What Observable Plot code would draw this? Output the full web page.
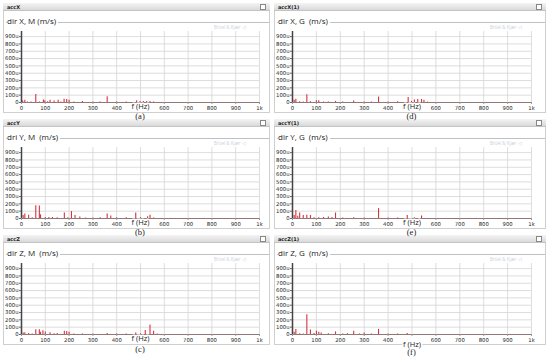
<!DOCTYPE html>
<html><head><meta charset="utf-8">
<script src="https://cdn.jsdelivr.net/npm/d3@7"></script>
<script src="https://cdn.jsdelivr.net/npm/@observablehq/plot@0.6"></script>
<style>
body{margin:0;background:#fff;}
#root{position:relative;width:550px;height:361px;overflow:hidden;background:#fff;font-family:"Open Sans",sans-serif;}
.frame{position:absolute;border:1px solid #cfcfcf;box-sizing:border-box;}
.head{position:absolute;height:8px;background:linear-gradient(#f4f4f4,#d9d9d9);border-bottom:1px solid #c4c4c4;box-sizing:border-box;font:bold 5px "DejaVu Sans";line-height:8px;color:#222;padding-left:4px;}
.sq{position:absolute;width:4px;height:4px;border:1px solid #888;background:#fff;top:1px;}
.tline{position:absolute;border-top:1px solid #c0c0c0;height:0;}
.title{position:absolute;font-size:8px;color:#222;background:#fff;white-space:pre;padding-right:2px;line-height:10px;}
.bk{position:absolute;font-size:4.5px;color:#c9d1de;white-space:pre;}
.cap{position:absolute;z-index:5;font:8.5px "Liberation Serif",serif;color:#222;padding:0 3px;transform:translateX(-50%);line-height:10px;}
.plot{position:absolute;}
</style></head>
<body><div id="root"></div>
<script>
// ---- data (Hz, amplitude in u m/s) ----
const freqA = [0, 5, 14, 25, 40, 60, 75, 92, 98, 110, 120, 137, 154, 165, 179, 190, 200, 220, 256, 300, 330, 360, 400, 440, 484, 498, 512, 526, 540, 555];
const ampA  = [310, 20, 30, 8, 6, 110, 8, 35, 25, 10, 30, 20, 30, 8, 45, 40, 30, 8, 15, 6, 6, 80, 6, 8, 25, 15, 15, 15, 12, 6];
const freqD = [0, 7, 14, 30, 45, 60, 75, 100, 110, 130, 150, 180, 210, 256, 300, 330, 360, 400, 440, 484, 498, 510, 524, 540, 550, 565];
const ampD  = [150, 30, 45, 10, 8, 105, 10, 25, 25, 8, 8, 15, 8, 20, 8, 6, 75, 8, 10, 70, 15, 35, 40, 40, 30, 6];
const freqB = [0, 7, 14, 30, 45, 60, 75, 80, 100, 115, 130, 150, 180, 195, 210, 225, 245, 270, 300, 330, 360, 375, 400, 440, 480, 500, 530, 540, 555];
const ampB  = [300, 40, 60, 45, 10, 175, 170, 50, 15, 15, 12, 10, 75, 10, 95, 40, 20, 8, 8, 10, 60, 35, 10, 10, 75, 12, 25, 45, 6];
const freqE = [0, 7, 14, 22, 30, 45, 60, 75, 90, 110, 130, 150, 165, 180, 210, 256, 300, 360, 400, 440, 480, 510, 540];
const ampE  = [310, 40, 110, 30, 75, 40, 45, 40, 10, 10, 12, 20, 12, 75, 8, 10, 6, 135, 6, 8, 40, 10, 35];
const freqC = [0, 7, 14, 30, 45, 60, 75, 80, 90, 100, 120, 137, 150, 180, 190, 200, 220, 256, 300, 360, 400, 440, 480, 500, 520, 540, 555, 570];
const ampC  = [160, 20, 25, 15, 8, 65, 65, 30, 50, 35, 25, 10, 12, 45, 40, 30, 8, 8, 6, 15, 6, 8, 20, 10, 55, 130, 45, 8];
const freqF = [0, 7, 14, 30, 45, 60, 75, 90, 100, 110, 120, 150, 180, 210, 230, 256, 280, 300, 330, 360, 400, 440, 480];
const ampF  = [210, 30, 70, 10, 8, 270, 60, 15, 45, 30, 20, 10, 35, 8, 10, 45, 8, 20, 8, 70, 6, 6, 15];

const xTicks = [0, 100, 200, 300, 400, 500, 600, 700, 800, 900, 1000];
const yTicks = [0, 100, 200, 300, 400, 500, 600, 700, 800, 900];
const xLabel = "f (Hz)";
const brand = "Brüel & Kjær ◁";

const panels = [
  {col:0,row:0,head:"accX",   title:"dir X, M (m/s)",   cap:"(a)", f:freqA, a:ampA, ldy:0},
  {col:1,row:0,head:"accX(1)",title:"dir X, G  (m/s)",  cap:"(d)", f:freqD, a:ampD, ldy:0},
  {col:0,row:1,head:"accY",   title:"dri Y, M  (m/s)",  cap:"(b)", f:freqB, a:ampB, ldy:0},
  {col:1,row:1,head:"accY(1)",title:"dir Y, G  (m/s)",  cap:"(e)", f:freqE, a:ampE, ldy:0},
  {col:0,row:2,head:"accZ",   title:"dir Z, M  (m/s)",  cap:"(c)", f:freqC, a:ampC, ldy:0},
  {col:1,row:2,head:"accZ(1)",title:"dir Z, G  (m/s)",  cap:"(f)", f:freqF, a:ampF, ldy:6}
];

const root = document.getElementById("root");
const rowBase = [0, 116, 232];
const cols = [
  {x0:3, x1:270, svgL:0, ml:21, mr:9},
  {x0:274, x1:546, svgL:273, ml:19, mr:10}
];
const W = 268;
function el(cls, css, txt){const d=document.createElement("div");d.className=cls;Object.assign(d.style,css);if(txt!=null)d.textContent=txt;root.appendChild(d);return d;}

panels.forEach(p=>{
  const R = rowBase[p.row], c = cols[p.col];
  el("frame",{left:c.x0+"px",top:(R+3)+"px",width:(c.x1-c.x0)+"px",height:"110px"});
  const h = el("head",{left:c.x0+"px",top:(R+3)+"px",width:(c.x1-c.x0)+"px"},p.head);
  const s=document.createElement("div");s.className="sq";s.style.right="4px";h.appendChild(s);
  el("tline",{left:(c.x0+3)+"px",top:(R+22)+"px",width:(c.x1-c.x0-4)+"px"});
  el("title",{left:(c.x0+4)+"px",top:(R+16)+"px"},p.title);
  el("bk",{left:(c.x1-56)+"px",top:(R+24)+"px"},brand);

  const data = p.f.map((f,i)=>({f, a:p.a[i]}));
  const chart = Plot.plot({
    width: W, height: 88,
    marginLeft: c.ml, marginRight: c.mr, marginTop: 5, marginBottom: 12,
    style:{fontFamily:"DejaVu Sans", fontSize:"5.3px", color:"#222", background:"transparent", overflow:"visible"},
    x:{domain:[0,1000]},
    y:{domain:[0,970]},
    marks:[
      Plot.gridX(xTicks,{stroke:"#d4d4d4", strokeOpacity:1, strokeWidth:0.8}),
      Plot.gridY(yTicks,{stroke:"#d4d4d4", strokeOpacity:1, strokeWidth:0.8}),
      Plot.ruleY([0],{stroke:"#8a6a6a", strokeWidth:0.9}),
      Plot.ruleX(data,{x:"f", y1:0, y2:"a", stroke:"#d3343f", strokeWidth:1.1}),
      Plot.ruleX([0],{stroke:"#444", strokeWidth:1.5}),
      Plot.axisY({ticks:yTicks, tickFormat:d=>d===0?"0":d+"u", tickSize:2, tickPadding:1, label:null, stroke:"#666"}),
      Plot.axisX({ticks:xTicks, tickFormat:d=>d===1000?"1k":(d===500?"":String(d)), tickSize:2, tickPadding:2, label:null, stroke:"#999"}),
      Plot.text([{f:500, t:xLabel}],{x:"f", text:"t", frameAnchor:"bottom", dy:6+p.ldy, fontSize:7.5, fontFamily:"Open Sans", fill:"#222", stroke:"white", strokeWidth:3})
    ]
  });
  chart.classList.add("plot");
  chart.style.left = c.svgL+"px";
  chart.style.top = (R+26)+"px";
  root.appendChild(chart);

  const capX = c.svgL + c.ml + (W - c.ml - c.mr)*0.5;
  el("cap",{left:capX+"px",top:(R+111+(p.row===2?1+p.ldy/2:0))+"px"},p.cap);
});
</script></body></html>
